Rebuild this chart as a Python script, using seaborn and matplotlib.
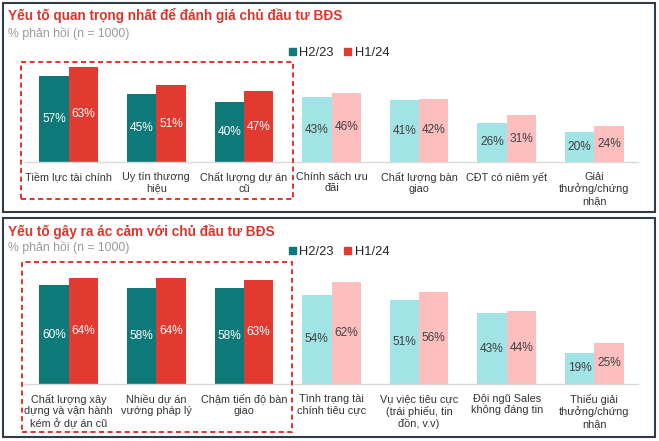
import matplotlib
matplotlib.use("Agg")
import matplotlib.pyplot as plt
import seaborn as sns
import pandas as pd
from matplotlib.patches import Rectangle, Patch

# du lieu
periods = ["H2/23", "H1/24"]

cats_top = ["Tiềm lực tài chính", "Uy tín thương\nhiệu", "Chất lượng dự án\ncũ",
            "Chính sách ưu\nđãi", "Chất lượng bàn\ngiao", "CĐT có niêm yết",
            "Giải\nthưởng/chứng\nnhận"]
h223_top = [57, 45, 40, 43, 41, 26, 20]
h124_top = [63, 51, 47, 46, 42, 31, 24]

cats_bot = ["Chất lượng xây\ndựng và vận hành\nkém ở dự án cũ", "Nhiều dự án\nvướng pháp lý",
            "Chậm tiến độ bàn\ngiao", "Tình trạng tài\nchính tiêu cực",
            "Vụ việc tiêu cực\n(trái phiếu, tin\nđồn, v.v)", "Đội ngũ Sales\nkhông đáng tin",
            "Thiếu giải\nthưởng/chứng\nnhận"]
h223_bot = [60, 58, 58, 54, 51, 43, 19]
h124_bot = [64, 64, 63, 62, 56, 44, 25]

titles = ["Yếu tố quan trọng nhất để đánh giá chủ đầu tư BĐS",
          "Yếu tố gây ra ác cảm với chủ đầu tư BĐS"]
subtitle = "% phản hồi (n = 1000)"

teal, red = "#0d7a79", "#e23a30"
light_teal, light_red = "#a2e3e6", "#fdbebe"

sns.set_style("white")
plt.rcParams['font.family'] = ['Liberation Sans', 'DejaVu Sans']

W, H = 659, 441
fig = plt.figure(figsize=(W / 100, H / 100), dpi=100)


def fx(px):
    return px / W


def fy(py):
    # py tinh tu goc tren
    return (H - py) / H


def draw_panel(base_y, scale, cats, a, b):
    height = 70 * scale
    ax = fig.add_axes([fx(25), fy(base_y), fx(613), height / H])
    df = pd.DataFrame({
        "cat": cats * 2,
        "period": [periods[0]] * len(cats) + [periods[1]] * len(cats),
        "val": a + b,
    })
    sns.barplot(data=df, x="cat", y="val", hue="period", palette=[teal, red],
                width=0.67, ax=ax, legend=False, linewidth=0, saturation=1)
    lights = [light_teal, light_red]
    for i, cont in enumerate(ax.containers):
        for j, bar in enumerate(cont):
            if j >= 3:
                bar.set_facecolor(lights[i])
            h = bar.get_height()
            ax.text(bar.get_x() + bar.get_width() / 2, h / 2, f"{h:.0f}%",
                    ha="center", va="center", fontsize=8.6,
                    color="white" if j < 3 else "#404040")
    ax.set_ylim(0, 70)
    ax.set_xlim(-0.5, 6.5)
    ax.set_xlabel("")
    ax.set_ylabel("")
    ax.set_yticks([])
    ax.tick_params(axis="x", length=0, pad=7, labelsize=7.8, labelcolor="#333333")
    for s in ["top", "left", "right"]:
        ax.spines[s].set_visible(False)
    ax.spines["bottom"].set_color("#d9d9d9")
    ax.spines["bottom"].set_linewidth(1)
    return ax


# khung panel
for y0, y1 in [(3, 212), (218, 437)]:
    fig.add_artist(Rectangle((fx(3), fy(y1)), fx(652), (y1 - y0) / H,
                             transform=fig.transFigure, fill=False,
                             ec="#2e3b48", lw=1.5))

ax1 = draw_panel(162, 1.508, cats_top, h223_top, h124_top)
ax2 = draw_panel(384, 1.65, cats_bot, h223_bot, h124_bot)

# tytuly
for ty, sy, t in [(15, 33, titles[0]), (232, 247, titles[1])]:
    fig.text(fx(8), fy(ty), t, color="#e2332b", fontsize=9.8, fontweight="bold",
             va="center", ha="left")
    fig.text(fx(8), fy(sy), subtitle, color="#9a9a9a", fontsize=8.8, va="center", ha="left")

# legenda
handles = [Patch(color=teal, label=periods[0]), Patch(color=red, label=periods[1])]
for ly in [53, 252]:
    fig.legend(handles=handles, loc="center left", bbox_to_anchor=(fx(289), fy(ly)),
               ncol=2, frameon=False, fontsize=9.3, handlelength=0.55, handleheight=0.55,
               handletextpad=0.25, columnspacing=0.8, borderaxespad=0, borderpad=0)

# ramki przerywane
for x0, y0, x1, y1 in [(21, 62, 293, 199), (22, 262, 292, 432)]:
    fig.add_artist(Rectangle((fx(x0), fy(y1)), fx(x1 - x0), (y1 - y0) / H,
                             transform=fig.transFigure, fill=False, ec="#e2332b",
                             lw=1.4, linestyle=(0, (2.6, 1.8))))

plt.savefig("out.png", dpi=100)
